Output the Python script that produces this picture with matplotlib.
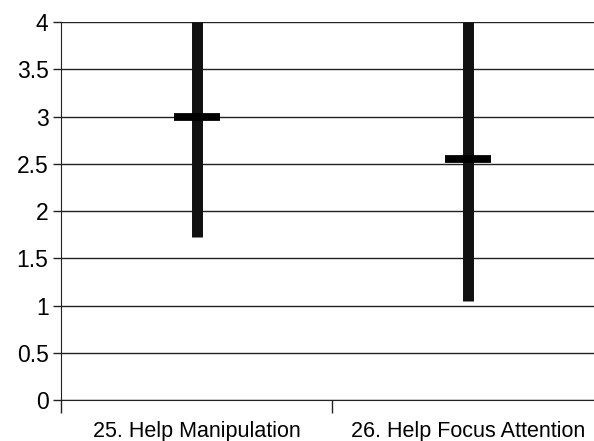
import matplotlib.pyplot as plt
import numpy as np

plt.rcParams['font.family'] = ['Liberation Sans', 'DejaVu Sans']

# data
categories = ["25. Help Manipulation", "26. Help Focus Attention"]
low_vals = [1.73, 1.05]
high_vals = [4.0, 4.0]
mean_vals = [2.99, 2.55]

fig = plt.figure(figsize=(5.94, 4.41), dpi=100)
ax = fig.add_axes([0.1027, 0.093, 0.913, 0.857])

x = np.arange(1, len(categories) + 1)

ax.set_ylim(0, 4)
ax.set_xlim(0.5, len(categories) + 0.5)
ax.set_yticks(np.arange(0, 4.01, 0.5))
ax.set_yticklabels(["0", "0.5", "1", "1.5", "2", "2.5", "3", "3.5", "4"])
ax.yaxis.grid(True, color="#222222", linewidth=1.0)
ax.set_axisbelow(True)

# high-low bars and mean ticks
ax.vlines(x, low_vals, high_vals, color="#111111", linewidth=7.9, zorder=3)
ax.plot(x, mean_vals, linestyle="none", marker="_", markersize=33,
        markeredgewidth=5.6, color="#000000", zorder=4)

# category boundaries as major ticks, names on minor ticks
ax.set_xticks(np.arange(0.5, len(categories) + 0.6, 1.0))
ax.set_xticklabels([])
ax.set_xticks(x, minor=True)
ax.set_xticklabels(categories, minor=True, fontsize=15.5)
ax.tick_params(axis="x", which="major", length=9, width=1, color="#222222")
ax.tick_params(axis="x", which="minor", length=0, pad=15)
ax.tick_params(axis="y", length=6, width=1, labelsize=16.5, pad=3, color="#222222")

for side in ["top", "right"]:
    ax.spines[side].set_visible(False)
ax.spines["left"].set_color("#222222")
ax.spines["bottom"].set_color("#222222")

fig.savefig("out.png", dpi=100)
